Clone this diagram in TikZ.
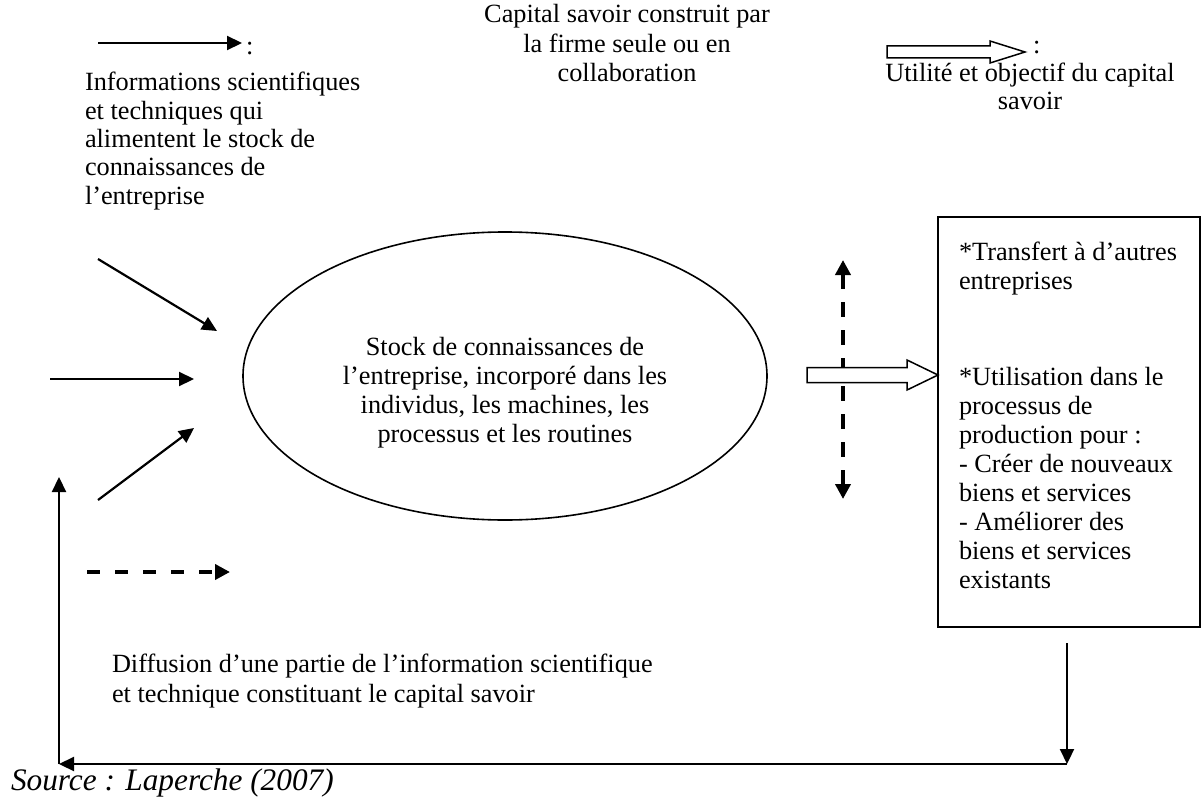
\documentclass[tikz,border=0pt]{standalone}
\usepackage{fontspec}
\setmainfont{Liberation Serif}
\usetikzlibrary{arrows.meta,shapes.geometric,calc}
\newcommand\blkL[1]{\vtop{\halign{##\hfil\cr#1\crcr}}}
\newcommand\blkC[1]{\vtop{\halign{\hfil##\hfil\cr#1\crcr}}}
\tikzset{
  txt/.style={inner sep=0pt, outer sep=0pt},
  solidarrow/.style={line width=2.2bp, -{Triangle[length=15bp,width=14bp]}},
  dasharrow/.style={line width=3.8bp, dash pattern=on 13bp off 15bp, -{Triangle[length=15bp,width=15bp]}},
  dashdouble/.style={line width=3.8bp, dash pattern=on 15bp off 13bp, {Triangle[length=15bp,width=15bp]}-{Triangle[length=15bp,width=15bp]}},
  hollow/.style={draw, line width=1.5bp, fill=white, line join=miter},
}
\begin{document}
\begin{tikzpicture}[x=1bp, y=-1bp, font=\fontsize{26.3bp}{29bp}\selectfont]
\useasboundingbox (0,0) rectangle (1201,798);

% ---- legend (top left) ----
\coordinate (legA) at (98,43);
\coordinate (legB) at (242,43);
\draw[solidarrow] (legA) -- (legB);
\node[txt, anchor=base west] (legcolon) at (246,55) {:};
\node[txt, anchor=base west] (legtext) at (85,91)
  {\baselineskip=28.3bp\blkL{Informations scientifiques\cr
   et techniques qui\cr alimentent le stock de\cr connaissances de\cr l’entreprise}};

% ---- top centre text ----
\node[txt, anchor=base] (captext) at (627,23)
  {\baselineskip=29.5bp\blkC{Capital savoir construit par\cr la firme seule ou en\cr collaboration}};

% ---- legend (top right) ----
\coordinate (hlA) at (887,52);
\coordinate (hlB) at (1025,52);
\draw[hollow] ($(hlA)+(0,-6)$) -- ($(hlB)+(-35,-6)$) -- ($(hlB)+(-35,-11)$) -- (hlB)
  -- ($(hlB)+(-35,11)$) -- ($(hlB)+(-35,6)$) -- ($(hlA)+(0,6)$) -- cycle;
\node[txt, anchor=base west] (hlcolon) at (1033,54) {:};
\node[txt, anchor=base] (hltext) at (1030,82)
  {\baselineskip=28bp\blkC{Utilité et objectif du capital\cr savoir}};

% ---- ellipse ----
\node[ellipse, draw, line width=1.6bp, minimum width=524bp, minimum height=288bp,
      inner sep=0pt, outer sep=0pt] (stock) at (505,376) {};
\node[txt, anchor=base] (stocktext) at (505,355)
  {\baselineskip=29bp\blkC{Stock de connaissances de\cr
   l’entreprise, incorporé dans les\cr individus, les machines, les\cr processus et les routines}};

% ---- left input arrows ----
\coordinate (in1a) at (98,259);  \coordinate (in1b) at (217,331);
\coordinate (in2a) at (50,379);  \coordinate (in2b) at (194,379);
\coordinate (in3a) at (98,500);  \coordinate (in3b) at (194,428);
\coordinate (dsa) at (87,572);   \coordinate (dsb) at (230,572);
\draw[solidarrow] (in1a) -- (in1b);
\draw[solidarrow] (in2a) -- (in2b);
\draw[solidarrow] (in3a) -- (in3b);
\draw[dasharrow] (dsa) -- (dsb);

% ---- box ----
\node[draw, line width=2bp, anchor=north west, minimum width=262bp, minimum height=410bp,
      inner sep=0pt, outer sep=0pt] (box) at (938,217) {};
\node[txt, anchor=base west] (boxtext1) at (959,260)
  {\baselineskip=29bp\blkL{*Transfert à d’autres\cr entreprises}};
\node[txt, anchor=base west] (boxtext2) at (959,385)
  {\baselineskip=29bp\blkL{*Utilisation dans le\cr processus de\cr production pour :\cr
   - Créer de nouveaux\cr biens et services\cr - Améliorer des\cr biens et services\cr existants}};

% ---- dashed double arrow ----
\coordinate (vdA) at (843,260);
\coordinate (vdB) at (843,499);
\draw[dashdouble] (vdA) -- (vdB);

% ---- main hollow arrow ----
\coordinate (haA) at (807,375);
\coordinate (haB) at (box.north west |- haA);
\draw[hollow] ($(haA)+(0,-7.5)$) -- ($(haB)+(-31,-7.5)$) -- ($(haB)+(-31,-15)$) -- (haB)
  -- ($(haB)+(-31,15)$) -- ($(haB)+(-31,7.5)$) -- ($(haA)+(0,7.5)$) -- cycle;

% ---- feedback loop ----
\coordinate (fbA) at (1067,643);
\coordinate (fbB) at (1067,764);
\coordinate (fbC) at (59,764);
\coordinate (fbD) at (59,477);
\draw[solidarrow] (fbA) -- (fbB);
\draw[solidarrow] (fbB) -- (fbC);
\draw[solidarrow] (fbC) -- (fbD);

\node[txt, anchor=base west] (difftext) at (112,672)
  {\baselineskip=30bp\blkL{Diffusion d’une partie de l’information scientifique\cr
   et technique constituant le capital savoir}};

\node[txt, anchor=base west, font=\fontsize{31.3bp}{34bp}\selectfont\itshape] (source) at (11,790)
  {Source : Laperche (2007)};
\end{tikzpicture}
\end{document}
